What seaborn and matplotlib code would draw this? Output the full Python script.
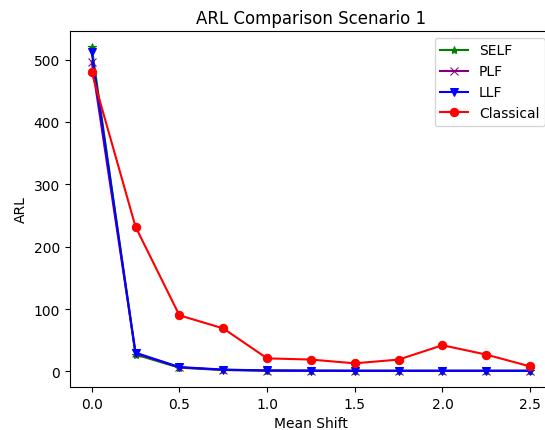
import matplotlib
matplotlib.use("Agg")
import matplotlib.pyplot as plt
import seaborn as sns

# Mean shift levels and ARL for each chart type
mean_shift = [0.0, 0.25, 0.5, 0.75, 1.0, 1.25, 1.5, 1.75, 2.0, 2.25, 2.5]
arl_self = [520, 27, 6, 2.2, 1.3, 1.1, 1.0, 1.0, 1.0, 1.0, 1.0]
arl_plf = [497, 29, 6.5, 2.5, 1.4, 1.1, 1.0, 1.0, 1.0, 1.0, 1.0]
arl_llf = [512, 30, 7, 3, 1.5, 1.2, 1.0, 1.0, 1.0, 1.0, 1.0]
arl_classical = [480, 232, 90, 69, 21, 19, 13, 19, 42, 27, 8]

series = [
    ("SELF", arl_self, "green", "*"),
    ("PLF", arl_plf, "purple", "x"),
    ("LLF", arl_llf, "blue", "v"),
    ("Classical", arl_classical, "red", "o"),
]

fig = plt.figure(figsize=(5.45, 4.31), dpi=100)
ax = fig.add_axes([0.128, 0.0998, 0.885, 0.826])

for name, values, color, marker in series:
    sns.lineplot(x=mean_shift, y=values, ax=ax, color=color, marker=marker,
                 markeredgecolor=color, markersize=6, linewidth=1.5,
                 label=name, estimator=None)

ax.set_title("ARL Comparison Scenario 1")
ax.set_xlabel("Mean Shift")
ax.set_ylabel("ARL")
ax.legend(loc="upper right")

fig.savefig("out.png", dpi=100)
